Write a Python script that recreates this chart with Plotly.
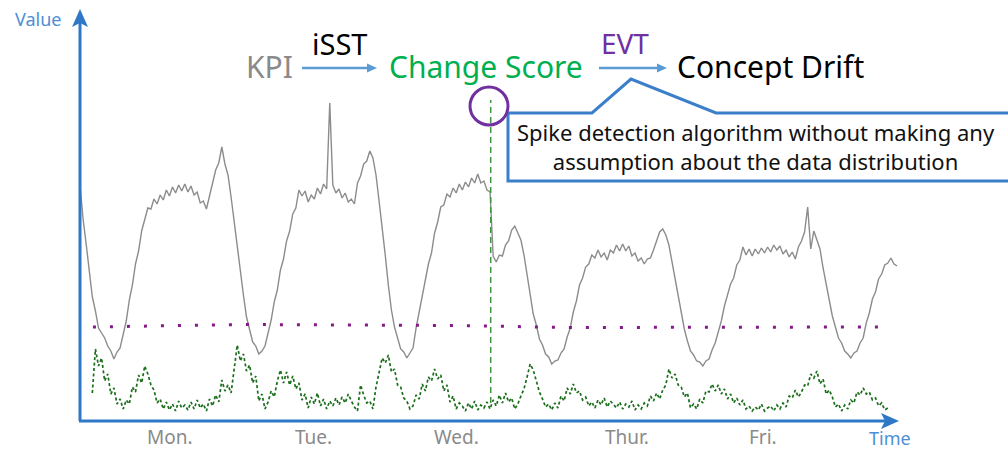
import plotly.graph_objects as go

# ---------------------------------------------------------------- data
SAMPLE_HOURS = 0.5          # one sample every 30 minutes
KPI_START = 0.0             # hours since Monday 00:00
SCORE_START = 2.0

# KPI (gray curve)
kpi = [
    236, 202, 177, 151, 124, 110, 93, 88, 83, 75,
    70, 62, 69, 73, 88, 100, 121, 136, 157, 170,
    190, 202, 213, 212, 222, 217, 226, 221, 231, 225,
    234, 228, 236, 230, 237, 229, 235, 226, 229, 218,
    220, 212, 224, 236, 251, 258, 274, 257, 246, 224,
    199, 172, 145, 126, 104, 91, 79, 75, 67, 70,
    75, 88, 101, 119, 131, 151, 162, 180, 190, 207,
    213, 231, 225, 230, 219, 226, 222, 233, 227, 237,
    232, 318, 236, 228, 232, 223, 228, 219, 222, 217,
    238, 245, 257, 260, 270, 263, 246, 220, 195, 166,
    136, 111, 94, 83, 72, 69, 63, 68, 73, 93,
    109, 127, 139, 157, 168, 188, 199, 214, 216, 227,
    224, 233, 228, 237, 231, 239, 234, 243, 238, 247,
    238, 240, 231, 229, 165, 159, 166, 165, 176, 180,
    191, 195, 188, 181, 166, 147, 129, 107, 96, 82,
    76, 67, 64, 57, 60, 61, 68, 72, 84, 93,
    109, 120, 136, 143, 154, 157, 166, 163, 171, 164,
    168, 161, 171, 168, 176, 170, 177, 170, 175, 165,
    168, 160, 163, 157, 162, 163, 171, 179, 189, 192,
    186, 176, 159, 144, 124, 108, 92, 80, 70, 66,
    60, 59, 55, 60, 62, 71, 78, 89, 100, 115,
    125, 137, 143, 156, 161, 174, 166, 172, 165, 172,
    167, 173, 168, 174, 169, 176, 171, 175, 167, 171,
    164, 169, 162, 174, 180, 189, 214, 172, 190, 182,
    172, 153, 135, 121, 105, 95, 83, 78, 70, 67,
    63, 68, 70, 78, 83, 98, 108, 122, 129, 142,
    147, 156, 158, 163, 157, 155,
]

# iSST change score (green curve)
change_score = [
    28, 72, 55, 63, 40, 47, 27, 33, 17, 22,
    12, 21, 17, 34, 29, 46, 38, 55, 47, 36,
    31, 18, 22, 12, 19, 11, 17, 10, 20, 13,
    16, 11, 19, 12, 21, 13, 17, 10, 22, 15,
    26, 19, 41, 30, 36, 28, 52, 76, 60, 67,
    50, 56, 38, 45, 20, 27, 12, 19, 30, 24,
    40, 51, 38, 49, 36, 45, 32, 38, 21, 27,
    13, 24, 17, 28, 15, 22, 12, 20, 15, 23,
    16, 24, 18, 27, 20, 14, 10, 36, 26, 18,
    20, 12, 34, 50, 63, 58, 66, 49, 52, 36,
    34, 23, 20, 12, 15, 26, 22, 37, 30, 44,
    40, 52, 42, 46, 30, 36, 19, 25, 12, 18,
    15, 10, 18, 12, 20, 11, 16, 13, 19, 12,
    21, 15, 26, 18, 28, 19, 23, 12, 17, 25,
    32, 44, 57, 51, 40, 29, 22, 14, 17, 11,
    18, 13, 25, 20, 33, 27, 37, 28, 30, 21,
    24, 15, 19, 13, 21, 16, 23, 14, 20, 17,
    13, 19, 12, 17, 14, 20, 11, 16, 12, 18,
    15, 25, 20, 28, 22, 31, 36, 52, 43, 47,
    36, 34, 24, 28, 13, 17, 12, 22, 18, 30,
    29, 37, 30, 36, 27, 32, 22, 27, 18, 23,
    16, 21, 12, 15, 10, 14, 11, 17, 10, 13,
    15, 10, 16, 12, 18, 14, 25, 23, 31, 24,
    29, 36, 35, 47, 43, 50, 37, 42, 27, 31,
    24, 14, 17, 10, 16, 12, 21, 18, 29, 26,
    33, 27, 29, 21, 23, 15, 18, 11, 13,
]

# EVT threshold (purple dotted)
threshold_t = [2.1, 26.0, 60.0, 80.0, 130.5]
threshold_v = [94, 96.5, 95.5, 93.5, 94]

# detected concept drift
detect_t = 66.6
detect_line_v = [18, 321]

day_labels = ["Mon.", "Tue.", "Wed.", "Thur.", "Fri."]
day_label_t = [14.6, 37.8, 61.1, 88.7, 110.8]

kpi_t = [KPI_START + i * SAMPLE_HOURS for i in range(len(kpi))]
score_t = [SCORE_START + i * SAMPLE_HOURS for i in range(len(change_score))]

# ---------------------------------------------------------------- layout helpers
W, H = 1008, 451
PX_PER_HOUR = 148 / 24
ORIGIN_X, ORIGIN_Y = 80, 421


def hx(px):
    return (px - ORIGIN_X) / PX_PER_HOUR


def vy(py):
    return ORIGIN_Y - py


def pt(px, py):
    return f"{hx(px):.4f},{vy(py):.4f}"


FONT = "Noto Sans"
AXIS_BLUE = "#2f78c8"
ARROW_BLUE = "#5b9bd5"
LABEL_BLUE = "#4d8fd4"
GRAY = "#8a8a8a"
PURPLE = "#7030a0"

fig = go.Figure()

fig.add_trace(go.Scatter(
    x=kpi_t, y=kpi, mode="lines",
    line=dict(color="#8c8c8c", width=1.4), hoverinfo="skip"))

fig.add_trace(go.Scatter(
    x=score_t, y=change_score, mode="lines",
    line=dict(color="#1b6e1b", width=1.7, dash="3px,2.5px"), hoverinfo="skip"))

fig.add_trace(go.Scatter(
    x=threshold_t, y=threshold_v, mode="lines",
    line=dict(color="#86198a", width=3, dash="3px,14px"), hoverinfo="skip"))

fig.add_trace(go.Scatter(
    x=[detect_t, detect_t], y=detect_line_v, mode="lines",
    line=dict(color="#3c963c", width=1.5, dash="6px,4px"), hoverinfo="skip"))

shapes = []
# axes with arrowheads
shapes.append(dict(type="line", x0=hx(80), y0=vy(421), x1=hx(80), y1=vy(22),
                   line=dict(color=AXIS_BLUE, width=3)))
shapes.append(dict(type="path",
                   path=f"M {pt(80, 9)} L {pt(88, 27)} L {pt(80, 23)} L {pt(72, 27)} Z",
                   fillcolor=AXIS_BLUE, line=dict(width=0)))
shapes.append(dict(type="line", x0=hx(79), y0=vy(421), x1=hx(886), y1=vy(421),
                   line=dict(color=AXIS_BLUE, width=3)))
shapes.append(dict(type="path",
                   path=f"M {pt(899, 421)} L {pt(881, 413)} L {pt(885, 421)} L {pt(881, 429)} Z",
                   fillcolor=AXIS_BLUE, line=dict(width=0)))

# flow arrows: KPI -> Change Score -> Concept Drift
for x_start, x_tip in ((302, 377), (599, 667)):
    shapes.append(dict(type="line", x0=hx(x_start), y0=vy(68), x1=hx(x_tip - 8), y1=vy(68),
                       line=dict(color=ARROW_BLUE, width=2.5)))
    shapes.append(dict(type="path",
                       path=f"M {pt(x_tip, 68)} L {pt(x_tip - 10, 63.5)} L {pt(x_tip - 10, 72.5)} Z",
                       fillcolor=ARROW_BLUE, line=dict(width=0)))

# callout
shapes.append(dict(type="path",
                   path=(f"M {pt(508, 113)} L {pt(592, 113)} L {pt(631, 79)} L {pt(716, 113)} "
                         f"L {pt(1015, 113)} L {pt(1015, 181)} L {pt(508, 181)} Z"),
                   fillcolor="white", line=dict(color="#3b7fcb", width=3)))

# highlight circle around the detected spike
shapes.append(dict(type="circle", x0=hx(470), x1=hx(508), y0=vy(125), y1=vy(87),
                   line=dict(color=PURPLE, width=3)))

annotations = []


def label(text, px, py, size, color, **kw):
    annotations.append(dict(text=text, x=hx(px), y=vy(py), xref="x", yref="y",
                            showarrow=False, xanchor="center", yanchor="middle",
                            font=dict(family=FONT, size=size, color=color), **kw))


label("Value", 38, 19, 18, LABEL_BLUE)
label("Time", 890, 438, 18, LABEL_BLUE)
for name, t in zip(day_labels, day_label_t):
    annotations.append(dict(text=name, x=t, y=vy(437), xref="x", yref="y",
                            showarrow=False, xanchor="center", yanchor="middle",
                            font=dict(family=FONT, size=19, color=GRAY)))

label("KPI", 269, 66, 30, GRAY)
label("iSST", 339, 43, 29, "black")
label("Change Score", 486, 66, 30, "#00b050")
label("EVT", 625, 43, 28, PURPLE)
label("Concept Drift", 770, 66, 30, "black")
label("Spike detection algorithm without making any<br>assumption about the data distribution",
      756, 146, 22, "#111111", align="center")

fig.update_layout(
    width=W, height=H,
    margin=dict(l=0, r=0, t=0, b=0),
    paper_bgcolor="white", plot_bgcolor="white",
    showlegend=False,
    xaxis=dict(range=[hx(0), hx(W)], visible=False, fixedrange=True),
    yaxis=dict(range=[vy(H), vy(0)], visible=False, fixedrange=True),
    shapes=shapes,
    annotations=annotations,
)

fig.write_html("out.html", config={"displayModeBar": False})
